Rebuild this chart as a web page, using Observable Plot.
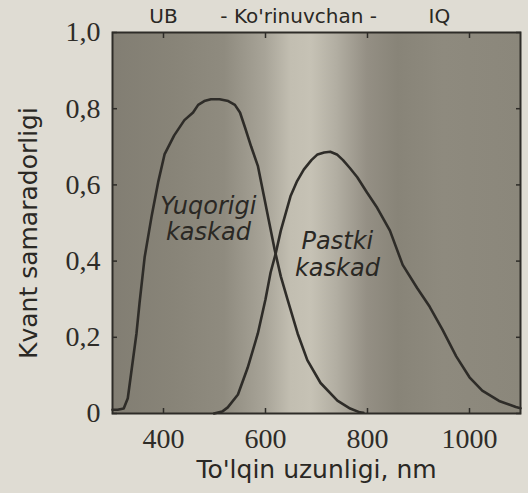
<!DOCTYPE html>
<html><head><meta charset="utf-8">
<script src="https://cdn.jsdelivr.net/npm/d3@7"></script>
<script src="https://cdn.jsdelivr.net/npm/@observablehq/plot@0.6"></script>
<style>
html,body{margin:0;padding:0;background:#dfdcd3;}
#chart svg{display:block;}
</style>
</head><body><div id="chart"></div>
<script>
// Upper cascade (Yuqorigi kaskad)
const upperNm = [300, 310, 322, 330, 338, 347, 353, 363, 377, 390, 402, 421, 441, 458, 468, 480, 493, 510, 527, 540, 550, 560, 572, 585, 597, 606, 618, 630, 643, 663, 682, 708, 741, 766, 785, 792];
const upperQE = [0.01, 0.01, 0.013, 0.04, 0.12, 0.21, 0.29, 0.41, 0.52, 0.61, 0.68, 0.73, 0.77, 0.79, 0.81, 0.82, 0.825, 0.825, 0.82, 0.81, 0.79, 0.75, 0.70, 0.65, 0.57, 0.51, 0.43, 0.36, 0.30, 0.21, 0.14, 0.08, 0.034, 0.013, 0.003, 0.002];
// Lower cascade (Pastki kaskad)
const lowerNm = [499, 515, 526, 546, 565, 585, 600, 610, 620, 630, 649, 662, 675, 690, 702, 715, 727, 740, 752, 765, 780, 799, 819, 844, 869, 897, 922, 947, 974, 1000, 1025, 1058, 1091, 1100];
const lowerQE = [0, 0.005, 0.016, 0.05, 0.12, 0.21, 0.30, 0.37, 0.42, 0.48, 0.57, 0.61, 0.64, 0.665, 0.68, 0.685, 0.687, 0.68, 0.665, 0.645, 0.62, 0.58, 0.54, 0.48, 0.39, 0.33, 0.28, 0.22, 0.15, 0.095, 0.06, 0.033, 0.017, 0.014];

const xTicks = [400, 600, 800, 1000];
const yTicks = [0, 0.2, 0.4, 0.6, 0.8, 1.0];

// Spectral region labels above the plot
const regionLabels = ["UB", "- Ko'rinuvchan -", "IQ"];
const regionNm = [400, 665, 941];

// Curve labels
const curveLabels = ["Yuqorigi\nkaskad", "Pastki\nkaskad"];
const curveLabelNm = [488, 741];
const curveLabelQE = [0.512, 0.42];

// Background shading (spectrum band tones)
const bgNm = [300, 420, 520, 600, 650, 690, 740, 800, 860, 950, 1100];
const bgShade = ["#827e73", "#888478", "#8f8b7f", "#a8a498", "#c2beb1", "#c6c2b5", "#b2aea2", "#948f84", "#888478", "#8e8a7e", "#8b877b"];

const upper = upperNm.map((nm, i) => ({nm, qe: upperQE[i]}));
const lower = lowerNm.map((nm, i) => ({nm, qe: lowerQE[i]}));
const regions = regionLabels.map((t, i) => ({t, nm: regionNm[i]}));
const curveText = curveLabels.map((t, i) => ({t, nm: curveLabelNm[i], qe: curveLabelQE[i]}));

function background(index, {x}, values, {width, height, marginLeft, marginRight, marginTop, marginBottom}) {
  const x0 = x(bgNm[0]), x1 = x(bgNm[bgNm.length - 1]);
  const g = d3.create("svg:g");
  const grad = g.append("defs").append("linearGradient")
    .attr("id", "bg-grad").attr("gradientUnits", "userSpaceOnUse")
    .attr("x1", x0).attr("x2", x1).attr("y1", 0).attr("y2", 0);
  bgNm.forEach((d, i) => grad.append("stop").attr("offset", (x(d) - x0) / (x1 - x0)).attr("stop-color", bgShade[i]));
  g.append("rect")
    .attr("x", marginLeft).attr("y", marginTop)
    .attr("width", width - marginLeft - marginRight)
    .attr("height", height - marginTop - marginBottom)
    .attr("fill", "url(#bg-grad)");
  return g.node();
}

const fmtY = d => d === 0 ? "0" : d.toFixed(1).replace(".", ",");
const fmtX = d => String(d);
const ink = "#2e2c28";

const chart = Plot.plot({
  width: 528, height: 493,
  marginLeft: 112, marginRight: 8, marginTop: 32, marginBottom: 80,
  style: {background: "transparent", color: ink, fontFamily: "Liberation Serif", fontSize: "28px"},
  x: {domain: [300, 1100]},
  y: {domain: [0, 1]},
  marks: [
    background,
    Plot.line(upper, {x: "nm", y: "qe", stroke: ink, strokeWidth: 2.6}),
    Plot.line(lower, {x: "nm", y: "qe", stroke: ink, strokeWidth: 2.6}),
    Plot.text(curveText, {x: "nm", y: "qe", text: "t", fontFamily: "DejaVu Sans", fontStyle: "italic", fontSize: 24, lineHeight: 1.12, fill: "#2a2824"}),
    Plot.text(regions, {x: "nm", y: () => 1, text: "t", dy: -16, fontFamily: "DejaVu Sans", fontSize: 20, fill: "#2a2824"}),
    Plot.frame({stroke: ink, strokeWidth: 2}),
    // tick labels
    Plot.axisX({ticks: xTicks, tickSize: 0, tickPadding: 15, tickFormat: fmtX, label: null, fontSize: 28, fontFamily: "Liberation Serif"}),
    Plot.axisY({ticks: yTicks, tickSize: 0, tickPadding: 12, tickFormat: fmtY, label: null, fontSize: 28, fontFamily: "Liberation Serif"}),
    // inward tick marks on all four sides
    Plot.axisX({anchor: "bottom", ticks: xTicks, tickSize: 5, dy: -5, tickFormat: () => "", label: null, strokeWidth: 1.5}),
    Plot.axisX({anchor: "top", ticks: xTicks, tickSize: 5, dy: 5, tickFormat: () => "", label: null, strokeWidth: 1.5}),
    Plot.axisY({anchor: "left", ticks: yTicks, tickSize: 5, dx: 5, tickFormat: () => "", label: null, strokeWidth: 1.5}),
    Plot.axisY({anchor: "right", ticks: yTicks, tickSize: 5, dx: -5, tickFormat: () => "", label: null, strokeWidth: 1.5}),
    // axis titles
    Plot.text(["To'lqin uzunligi, nm"], {frameAnchor: "bottom", dy: 64, text: d => d, fontFamily: "DejaVu Sans", fontSize: 25, fill: "#2a2824"}),
    Plot.text(["Kvant samaradorligi"], {frameAnchor: "left", textAnchor: "middle", dx: -84, dy: 10, rotate: -90, text: d => d, fontFamily: "DejaVu Sans", fontSize: 25, fill: "#2a2824"})
  ]
});
document.getElementById("chart").append(chart);
</script>
</body></html>
